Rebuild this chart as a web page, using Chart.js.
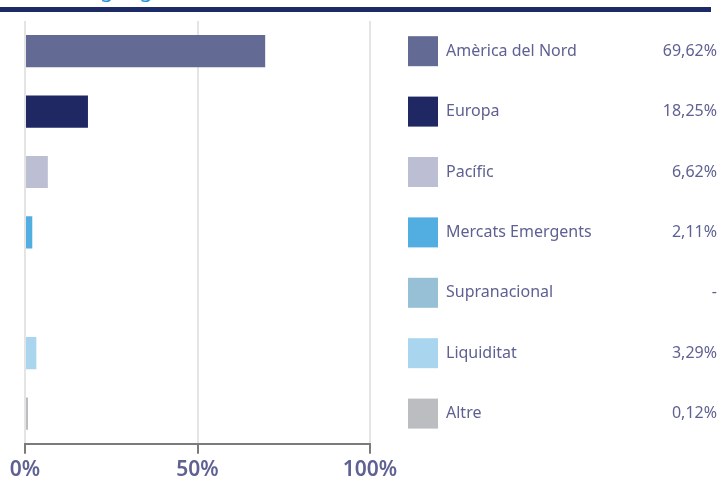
<!DOCTYPE html>
<html>
<head>
<meta charset="utf-8">
<script src="https://cdn.jsdelivr.net/npm/chart.js@4.4.0/dist/chart.umd.min.js"></script>
<style>
  html, body { margin: 0; padding: 0; background: #fff; }
  #wrap { position: relative; width: 721px; height: 479px; }
</style>
</head>
<body>
<div id="wrap"><canvas id="geoChart" width="721" height="479"></canvas></div>
<script>
// data
const regions = ['Amèrica del Nord', 'Europa', 'Pacífic', 'Mercats Emergents', 'Supranacional', 'Liquiditat', 'Altre'];
const weights = [69.62, 18.25, 6.62, 2.11, null, 3.29, 0.12];
const barColors = ['#636a94', '#1f2862', '#bcbfd4', '#52aee0', '#97bfd6', '#a9d6ee', '#bbbdc1'];
const axisTicks = [0, 50, 100];

const textColor = '#5e6192';

function fmtPct(v) {
  if (v === null) return '-';
  return v.toFixed(2).replace('.', ',') + '%';
}

// header strip (title cut at top + navy rule)
const headerPlugin = {
  id: 'header',
  beforeDraw(chart) {
    const c = chart.ctx;
    c.save();
    c.font = '22px "Noto Sans"';
    c.fillStyle = '#2a93d5';
    c.textBaseline = 'alphabetic';
    const pre = c.measureText('Distribució ').width;
    c.fillText('Distribució geogràfica', 100 - pre, -3);
    c.fillStyle = '#1c2a66';
    c.fillRect(0, 7, 711, 5);
    c.restore();
  }
};

// legend drawn on the category positions of the y scale
const sideLegend = {
  id: 'sideLegend',
  afterDraw(chart) {
    const c = chart.ctx;
    const y = chart.scales.y;
    c.save();
    c.font = '16px "Noto Sans"';
    c.textBaseline = 'middle';
    regions.forEach((name, i) => {
      const py = y.getPixelForValue(i);
      c.fillStyle = barColors[i];
      c.fillRect(408, py - 15, 30, 30);
      c.fillStyle = textColor;
      c.textAlign = 'left';
      c.fillText(name, 446, py);
      c.textAlign = 'right';
      c.fillText(fmtPct(weights[i]), 717, py);
    });
    c.restore();
  }
};

const ctx = document.getElementById('geoChart').getContext('2d');
new Chart(ctx, {
  type: 'bar',
  data: {
    labels: regions,
    datasets: [{
      data: weights,
      backgroundColor: barColors,
      borderWidth: 0,
      barPercentage: 0.62,
      categoryPercentage: 0.86,
      minBarLength: 3
    }]
  },
  options: {
    indexAxis: 'y',
    responsive: false,
    animation: false,
    layout: { padding: { left: 25, right: 351, top: 21, bottom: -8 } },
    plugins: {
      legend: { display: false },
      tooltip: { enabled: false }
    },
    scales: {
      x: {
        min: 0,
        max: 100,
        afterBuildTicks(scale) {
          scale.ticks = axisTicks.map(v => ({ value: v }));
        },
        grid: {
          color: '#e4e4e4',
          lineWidth: 2,
          tickColor: '#7b7b7b',
          tickWidth: 2,
          tickLength: 10,
          drawTicks: true
        },
        border: { display: true, color: '#7b7b7b', width: 2 },
        ticks: {
          color: textColor,
          font: { family: '"Noto Sans"', size: 21, weight: '600' },
          padding: 4,
          maxRotation: 0,
          callback: v => v + '%'
        }
      },
      y: {
        display: false,
        offset: true
      }
    }
  },
  plugins: [headerPlugin, sideLegend]
});
</script>
</body>
</html>
